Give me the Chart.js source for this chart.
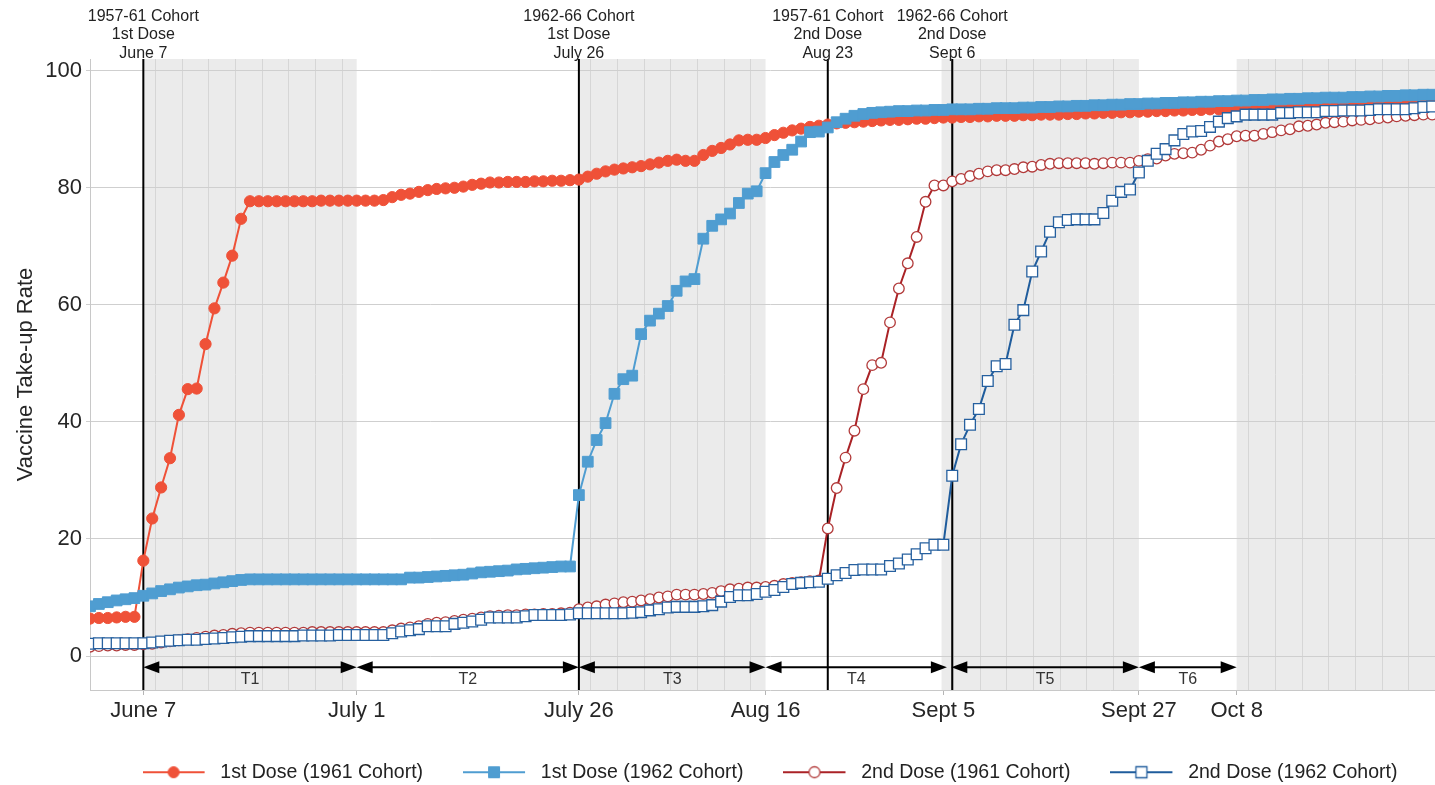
<!DOCTYPE html>
<html lang="en">
<head>
<meta charset="utf-8">
<title>Vaccine Take-up Rate</title>
<script src="https://cdn.jsdelivr.net/npm/chart.js@4.4.1/dist/chart.umd.min.js"></script>
<style>
  html, body { margin: 0; padding: 0; background: #fff; overflow: hidden; }
  #chartCanvas { display: block; }
</style>
</head>
<body>
<canvas id="chartCanvas" width="1540" height="792"></canvas>
<script>
// Vaccine take-up by cohort, one value per day, day 0 = June 1

const firstDose1961 = [
  6.4, 6.5, 6.5, 6.6, 6.7, 6.7, 16.3, 23.5, 28.8, 33.8,
  41.2, 45.6, 45.7, 53.3, 59.4, 63.8, 68.4, 74.7, 77.7, 77.7,
  77.7, 77.7, 77.7, 77.7, 77.7, 77.7, 77.8, 77.8, 77.8, 77.8,
  77.8, 77.8, 77.8, 77.9, 78.4, 78.8, 79.0, 79.3, 79.6, 79.8,
  79.9, 80.0, 80.2, 80.5, 80.7, 80.9, 80.9, 81.0, 81.0, 81.0,
  81.1, 81.1, 81.2, 81.2, 81.3, 81.4, 81.9, 82.4, 82.8, 83.1,
  83.3, 83.5, 83.7, 84.0, 84.3, 84.6, 84.8, 84.6, 84.6, 85.6,
  86.3, 86.8, 87.4, 88.1, 88.2, 88.2, 88.5, 89.0, 89.4, 89.8,
  90.1, 90.4, 90.6, 90.8, 91.0, 91.1, 91.2, 91.3, 91.4, 91.5,
  91.6, 91.6, 91.7, 91.8, 91.8, 91.9, 92.0, 92.0, 92.1, 92.1,
  92.2, 92.2, 92.3, 92.3, 92.3, 92.4, 92.4, 92.5, 92.5, 92.5,
  92.6, 92.6, 92.7, 92.7, 92.8, 92.8, 92.9, 92.9, 93.0, 93.0,
  93.1, 93.1, 93.2, 93.2, 93.3, 93.3, 93.4, 93.4, 93.5, 93.5,
  93.6, 93.7, 93.7, 93.8, 93.9, 93.9, 94.0, 94.1, 94.1, 94.2,
  94.3, 94.3, 94.4, 94.5, 94.5, 94.6, 94.7, 94.7, 94.8, 94.9,
  94.9, 95.0
];

const firstDose1962 = [
  8.5, 8.9, 9.2, 9.5, 9.7, 9.9, 10.3, 10.7, 11.1, 11.4,
  11.7, 11.9, 12.1, 12.2, 12.4, 12.6, 12.8, 13.0, 13.1, 13.1,
  13.1, 13.1, 13.1, 13.1, 13.1, 13.1, 13.1, 13.1, 13.1, 13.1,
  13.1, 13.1, 13.1, 13.1, 13.1, 13.1, 13.4, 13.4, 13.5, 13.6,
  13.7, 13.8, 13.9, 14.1, 14.3, 14.4, 14.5, 14.6, 14.8, 14.9,
  15.0, 15.1, 15.2, 15.3, 15.3, 27.5, 33.2, 36.9, 39.8, 44.8,
  47.3, 47.9, 55.0, 57.3, 58.5, 59.8, 62.4, 64.0, 64.4, 71.3,
  73.5, 74.6, 75.6, 77.4, 79.0, 79.4, 82.5, 84.4, 85.6, 86.5,
  87.9, 89.5, 89.6, 90.3, 91.2, 91.8, 92.3, 92.6, 92.8, 92.9,
  93.0, 93.1, 93.1, 93.2, 93.2, 93.3, 93.3, 93.4, 93.4, 93.4,
  93.5, 93.5, 93.6, 93.6, 93.6, 93.7, 93.7, 93.8, 93.8, 93.9,
  93.9, 94.0, 94.0, 94.1, 94.1, 94.2, 94.2, 94.3, 94.3, 94.4,
  94.4, 94.5, 94.5, 94.6, 94.6, 94.7, 94.7, 94.8, 94.8, 94.9,
  94.9, 95.0, 95.0, 95.1, 95.1, 95.2, 95.2, 95.3, 95.3, 95.4,
  95.4, 95.4, 95.5, 95.5, 95.6, 95.6, 95.7, 95.7, 95.8, 95.8,
  95.9, 95.9
];

const secondDose1961 = [
  1.6, 1.7, 1.8, 1.8, 1.9, 1.9, 2.0, 2.1, 2.3, 2.5,
  2.7, 2.9, 3.1, 3.3, 3.5, 3.6, 3.8, 3.9, 4.0, 4.0,
  4.0, 4.0, 4.0, 4.0, 4.0, 4.1, 4.1, 4.1, 4.1, 4.1,
  4.1, 4.1, 4.1, 4.1, 4.4, 4.7, 4.9, 5.1, 5.5, 5.7,
  5.8, 6.0, 6.2, 6.4, 6.6, 6.8, 6.9, 7.0, 7.0, 7.1,
  7.1, 7.2, 7.2, 7.3, 7.4, 8.0, 8.3, 8.5, 8.8, 9.0,
  9.2, 9.3, 9.5, 9.7, 10.0, 10.2, 10.5, 10.5, 10.5, 10.6,
  10.8, 11.1, 11.4, 11.5, 11.7, 11.7, 11.8, 12.0, 12.3, 12.5,
  12.6, 12.8, 12.9, 21.8, 28.7, 33.9, 38.5, 45.6, 49.7, 50.1,
  57.0, 62.8, 67.1, 71.6, 77.6, 80.4, 80.4, 81.1, 81.5, 82.0,
  82.4, 82.8, 83.0, 83.0, 83.2, 83.5, 83.6, 83.9, 84.1, 84.2,
  84.2, 84.2, 84.2, 84.1, 84.2, 84.3, 84.3, 84.3, 84.6, 84.9,
  85.0, 85.5, 85.8, 85.9, 86.0, 86.5, 87.2, 87.9, 88.3, 88.8,
  88.9, 88.9, 89.2, 89.5, 89.8, 90.0, 90.5, 90.6, 90.8, 91.1,
  91.2, 91.3, 91.5, 91.6, 91.7, 91.9, 92.0, 92.2, 92.3, 92.4,
  92.5, 92.5
];

const secondDose1962 = [
  2.1, 2.2, 2.2, 2.2, 2.2, 2.2, 2.2, 2.3, 2.5, 2.6,
  2.7, 2.8, 2.8, 2.9, 3.0, 3.1, 3.2, 3.3, 3.4, 3.4,
  3.4, 3.4, 3.4, 3.4, 3.5, 3.5, 3.5, 3.5, 3.6, 3.6,
  3.6, 3.6, 3.6, 3.6, 3.9, 4.2, 4.4, 4.6, 5.1, 5.1,
  5.1, 5.5, 5.7, 5.9, 6.2, 6.6, 6.6, 6.6, 6.6, 6.8,
  7.0, 7.0, 7.0, 7.0, 7.1, 7.3, 7.3, 7.3, 7.3, 7.3,
  7.3, 7.4, 7.5, 7.8, 8.0, 8.3, 8.4, 8.4, 8.4, 8.5,
  8.7, 9.3, 10.1, 10.4, 10.4, 10.6, 11.0, 11.3, 11.8, 12.3,
  12.5, 12.6, 12.7, 13.2, 13.8, 14.2, 14.7, 14.8, 14.8, 14.8,
  15.4, 15.8, 16.5, 17.4, 18.4, 19.0, 19.0, 30.8, 36.2, 39.5,
  42.2, 47.0, 49.5, 49.9, 56.6, 59.1, 65.7, 69.1, 72.5, 74.1,
  74.5, 74.6, 74.6, 74.6, 75.7, 77.8, 79.3, 79.7, 82.6, 84.6,
  85.8, 86.6, 88.1, 89.2, 89.6, 89.7, 90.4, 91.3, 91.9, 92.2,
  92.5, 92.5, 92.5, 92.5, 92.8, 92.8, 92.9, 92.9, 92.9, 93.1,
  93.1, 93.2, 93.2, 93.2, 93.3, 93.4, 93.4, 93.4, 93.4, 93.6,
  93.8, 93.9
];

// x axis ticks (day numbers) and their labels
const xTickDays = [6, 30, 55, 76, 96, 118, 129];
const xTickLabels = ['June 7', 'July 1', 'July 26', 'Aug 16', 'Sept 5', 'Sept 27', 'Oct 8'];
const yTickValues = [0, 20, 40, 60, 80, 100];

// dose start dates (vertical lines) and their captions
const doseLineDays = [6, 55, 83, 97];
const doseLineText = [
  ['1957-61 Cohort', '1st Dose', 'June 7'],
  ['1962-66 Cohort', '1st Dose', 'July 26'],
  ['1957-61 Cohort', '2nd Dose', 'Aug 23'],
  ['1962-66 Cohort', '2nd Dose', 'Sept 6']
];

// shaded periods
const shadeStart = [6, 55, 95.8, 129];
const shadeEnd = [30, 76, 118, 153];

// period arrows
const periodNames = ['T1', 'T2', 'T3', 'T4', 'T5', 'T6'];
const periodStart = [6, 30, 55, 76, 96.9, 118];
const periodEnd = [30, 55, 76, 96.4, 118, 129];
const arrowLevel = -1.9;
const arrowLabelLevel = -4.1;

const FONT = "'Liberation Sans', Arial, Helvetica, sans-serif";
Chart.defaults.font.family = FONT;
Chart.defaults.color = '#262626';

function toPoints(values) {
  return values.map((v, i) => ({ x: i, y: v }));
}

// legend icon: short line with the series marker in the middle
function legendIcon(ds) {
  const c = document.createElement('canvas');
  c.width = 68;
  c.height = 20;
  const ctx = c.getContext('2d');
  ctx.strokeStyle = ds.borderColor;
  ctx.lineWidth = 2;
  ctx.beginPath();
  ctx.moveTo(0, 10);
  ctx.lineTo(62, 10);
  ctx.stroke();
  ctx.fillStyle = ds.pointBackgroundColor;
  ctx.strokeStyle = ds.pointBorderColor;
  ctx.lineWidth = ds.pointBorderWidth;
  ctx.beginPath();
  if (ds.pointStyle === 'rect') {
    ctx.rect(31 - 5.5, 10 - 5.5, 11, 11);
  } else {
    ctx.arc(31, 10, 5.5, 0, Math.PI * 2);
  }
  ctx.fill();
  ctx.stroke();
  return c;
}

const periodPlugin = {
  id: 'periods',
  beforeDraw(chart) {
    const { ctx, chartArea: a, scales: { x } } = chart;
    ctx.save();
    for (let i = 0; i < shadeStart.length; i++) {
      const x0 = Math.max(x.getPixelForValue(shadeStart[i]), a.left);
      const x1 = Math.min(x.getPixelForValue(shadeEnd[i]), a.right);
      ctx.fillStyle = '#ebebeb';
      ctx.fillRect(x0, a.top, x1 - x0, a.bottom - a.top);
      // faint day lines inside the shaded blocks
      ctx.strokeStyle = '#d6d6d6';
      ctx.lineWidth = 1;
      for (let d = shadeStart[i] + 1.3; d < shadeEnd[i]; d += 3) {
        const px = Math.round(x.getPixelForValue(d)) + 0.5;
        ctx.beginPath();
        ctx.moveTo(px, a.top);
        ctx.lineTo(px, a.bottom);
        ctx.stroke();
      }
    }
    ctx.restore();
  },
  beforeDatasetsDraw(chart) {
    const { ctx, chartArea: a, scales: { x } } = chart;
    ctx.save();
    ctx.strokeStyle = '#000';
    ctx.lineWidth = 2;
    doseLineDays.forEach(d => {
      const px = x.getPixelForValue(d);
      ctx.beginPath();
      ctx.moveTo(px, a.top);
      ctx.lineTo(px, a.bottom);
      ctx.stroke();
    });
    ctx.restore();
  },
  afterDatasetsDraw(chart) {
    const { ctx, scales: { x, y } } = chart;
    const py = y.getPixelForValue(arrowLevel);
    const head = 16, half = 6;
    ctx.save();
    ctx.strokeStyle = '#000';
    ctx.fillStyle = '#000';
    ctx.lineWidth = 2;
    for (let i = 0; i < periodNames.length; i++) {
      const x0 = x.getPixelForValue(periodStart[i]);
      const x1 = x.getPixelForValue(periodEnd[i]);
      ctx.beginPath();
      ctx.moveTo(x0 + head - 2, py);
      ctx.lineTo(x1 - head + 2, py);
      ctx.stroke();
      ctx.beginPath();
      ctx.moveTo(x0, py);
      ctx.lineTo(x0 + head, py - half);
      ctx.lineTo(x0 + head, py + half);
      ctx.closePath();
      ctx.fill();
      ctx.beginPath();
      ctx.moveTo(x1, py);
      ctx.lineTo(x1 - head, py - half);
      ctx.lineTo(x1 - head, py + half);
      ctx.closePath();
      ctx.fill();
    }
    ctx.fillStyle = '#333';
    ctx.font = '16px ' + FONT;
    ctx.textAlign = 'center';
    ctx.textBaseline = 'middle';
    const ly = y.getPixelForValue(arrowLabelLevel);
    for (let i = 0; i < periodNames.length; i++) {
      const mid = (periodStart[i] + periodEnd[i]) / 2;
      ctx.fillText(periodNames[i], x.getPixelForValue(mid), ly);
    }
    ctx.restore();
  },
  afterDraw(chart) {
    const { ctx, scales: { x } } = chart;
    ctx.save();
    ctx.fillStyle = '#222';
    ctx.font = '16px ' + FONT;
    ctx.textAlign = 'center';
    ctx.textBaseline = 'middle';
    doseLineDays.forEach((d, i) => {
      const px = x.getPixelForValue(d);
      doseLineText[i].forEach((t, j) => ctx.fillText(t, px, 16.5 + j * 18.5));
    });
    ctx.restore();
  }
};

const datasets = [
  {
    label: '1st Dose (1961 Cohort)',
    data: toPoints(firstDose1961),
    borderColor: '#ef5138',
    borderWidth: 2,
    pointStyle: 'circle',
    pointRadius: 5.6,
    pointBackgroundColor: '#ef5138',
    pointBorderColor: '#ef5138',
    pointBorderWidth: 1,
    order: 4
  },
  {
    label: '1st Dose (1962 Cohort)',
    data: toPoints(firstDose1962),
    borderColor: '#4f9dd1',
    borderWidth: 2,
    pointStyle: 'rect',
    pointRadius: 7.6,
    pointBackgroundColor: '#4f9dd1',
    pointBorderColor: '#4f9dd1',
    pointBorderWidth: 1,
    order: 3
  },
  {
    label: '2nd Dose (1961 Cohort)',
    data: toPoints(secondDose1961),
    borderColor: '#aa2226',
    borderWidth: 2,
    pointStyle: 'circle',
    pointRadius: 5.3,
    pointBackgroundColor: '#ffffff',
    pointBorderColor: '#b23a3a',
    pointBorderWidth: 1.3,
    order: 2
  },
  {
    label: '2nd Dose (1962 Cohort)',
    data: toPoints(secondDose1962),
    borderColor: '#1f5c9c',
    borderWidth: 2,
    pointStyle: 'rect',
    pointRadius: 7.6,
    pointBackgroundColor: '#ffffff',
    pointBorderColor: '#26609f',
    pointBorderWidth: 1.3,
    order: 1
  }
];

const config = {
  type: 'line',
  data: { datasets },
  options: {
    responsive: false,
    animation: false,
    devicePixelRatio: 1,
    layout: { padding: { top: 59, right: 90, bottom: 0, left: 0 } },
    plugins: {
      tooltip: { enabled: false },
      legend: {
        position: 'bottom',
        align: 'center',
        fullSize: false,
        labels: {
          usePointStyle: true,
          pointStyleWidth: 68,
          padding: 40,
          color: '#222',
          font: { size: 19.5, family: FONT },
          generateLabels: chart => chart.data.datasets.map((ds, i) => ({
            text: ds.label,
            pointStyle: legendIcon(ds),
            fillStyle: ds.borderColor,
            strokeStyle: ds.borderColor,
            lineWidth: 0,
            hidden: false,
            datasetIndex: i,
            fontColor: '#222'
          }))
        }
      }
    },
    scales: {
      x: {
        type: 'linear',
        min: 0,
        max: 153,
        afterBuildTicks: scale => { scale.ticks = xTickDays.map(v => ({ value: v })); },
        afterFit: scale => { scale.height = 32.5; },
        ticks: {
          autoSkip: false,
          maxRotation: 0,
          padding: 3,
          font: { size: 22 },
          color: '#262626',
          callback: v => xTickLabels[xTickDays.indexOf(v)] || ''
        },
        grid: { drawOnChartArea: false, drawTicks: true, tickLength: 5, color: '#b5b5b5' },
        border: { display: true, color: '#c8c8c8' }
      },
      y: {
        type: 'linear',
        min: -5.8,
        max: 102,
        afterBuildTicks: scale => { scale.ticks = yTickValues.map(v => ({ value: v })); },
        afterFit: scale => { scale.width = 90; },
        ticks: { padding: 4, font: { size: 22 }, color: '#262626' },
        grid: { color: '#cfcfcf', lineWidth: 1, tickLength: 4 },
        border: { display: true, color: '#c8c8c8' },
        title: {
          display: true,
          text: 'Vaccine Take-up Rate',
          font: { size: 22 },
          color: '#262626',
          padding: { top: 13, bottom: 0 }
        }
      }
    }
  },
  plugins: [periodPlugin]
};

try {
  new Chart(document.getElementById('chartCanvas'), config);
} catch (error) {
  console.error('Chart error:', error);
}
</script>
</body>
</html>
